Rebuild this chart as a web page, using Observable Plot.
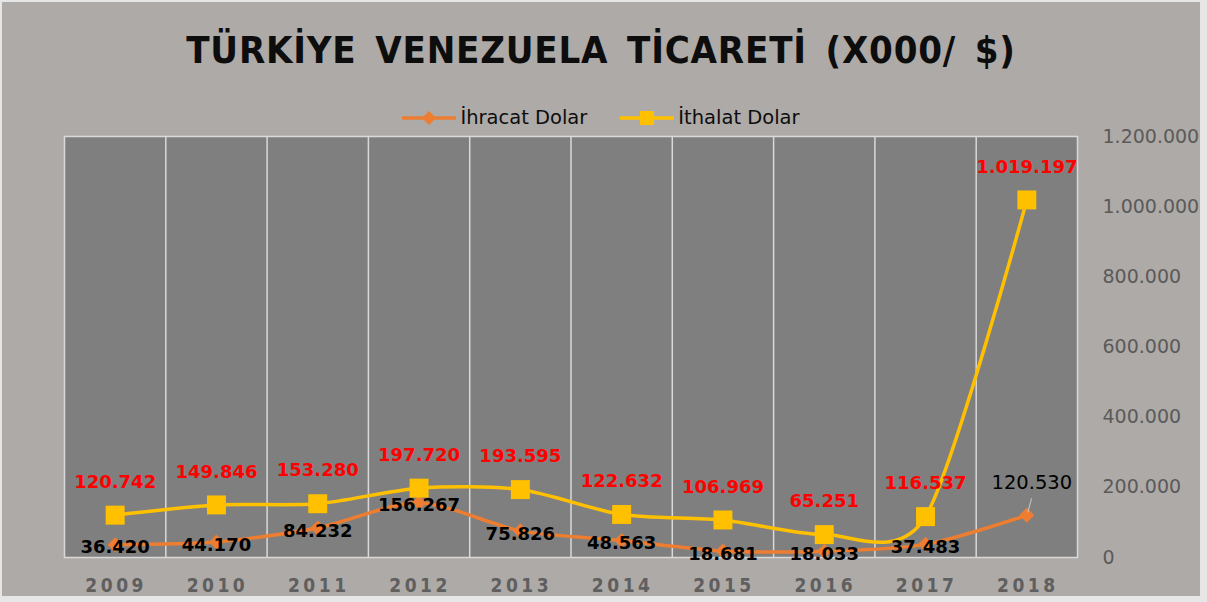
<!DOCTYPE html>
<html><head><meta charset="utf-8">
<script src="https://cdn.jsdelivr.net/npm/d3@7"></script>
<script src="https://cdn.jsdelivr.net/npm/@observablehq/plot@0.6"></script>
<style>
body{margin:0;background:#e6e6e6;}
#chart{position:absolute;left:2px;top:2px;width:1198px;height:594px;background:#aeaaa7;overflow:hidden;}
#title{position:absolute;left:0;top:26px;width:1198px;text-align:center;font-family:"DejaVu Sans Condensed","DejaVu Sans";font-stretch:condensed;font-weight:bold;font-size:38px;letter-spacing:0.8px;word-spacing:6px;color:#0d0d0d;}
#legend{position:absolute;left:0;top:104px;width:1198px;display:flex;justify-content:center;gap:33px;font-family:"DejaVu Sans";font-size:19.5px;color:#0d0d0d;}
#legend .it{display:flex;align-items:center;gap:4px;}
#plot{position:absolute;left:0;top:114px;}
#plot svg [aria-label="x-axis tick label"] text{letter-spacing:3.5px;font-stretch:condensed;}
</style></head>
<body>
<div id="chart">
  <div id="title">TÜRKİYE VENEZUELA TİCARETİ (X000/ $)</div>
  <div id="legend"></div>
  <div id="plot"></div>
</div>
<script>
const years = [2009, 2010, 2011, 2012, 2013, 2014, 2015, 2016, 2017, 2018];
const ihracat = [36420, 44170, 84232, 156267, 75826, 48563, 18681, 18033, 37483, 120530];
const ithalat = [120742, 149846, 153280, 197720, 193595, 122632, 106969, 65251, 116537, 1019197];
const yTicks = [0, 200000, 400000, 600000, 800000, 1000000, 1200000];
const seriesNames = ["İhracat Dolar", "İthalat Dolar"];
const colors = ["#ED7D31", "#FFC000"];

const fmt = v => d3.format(",")(v).replace(/,/g, ".");
const exp = years.map((y, i) => ({year: y, value: ihracat[i]}));
const imp = years.map((y, i) => ({year: y, value: ithalat[i]}));
const bounds = years.slice(1).map(y => y - 0.5);

// legend
const leg = document.getElementById("legend");
seriesNames.forEach((n, i) => {
  const it = document.createElement("div"); it.className = "it";
  const mk = i === 0
    ? `<path d="M27,3 L34,10 L27,17 L20,10 Z" fill="${colors[i]}"/>`
    : `<rect x="20" y="3" width="14" height="14" fill="${colors[i]}"/>`;
  it.innerHTML = `<svg width="54" height="20"><line x1="0" x2="54" y1="10" y2="10" stroke="${colors[i]}" stroke-width="3.5"/>${mk}</svg><span>${n}</span>`;
  leg.appendChild(it);
});

const font = "'DejaVu Sans', sans-serif";
const plot = Plot.plot({
  width: 1198,
  height: 482,
  marginTop: 20,
  marginBottom: 41,
  marginLeft: 62,
  marginRight: 123,
  style: {background: "transparent", fontFamily: font},
  x: {domain: [years[0] - 0.5, years[years.length - 1] + 0.5], label: null},
  y: {domain: [0, 1200000], label: null},
  marks: [
    Plot.frame({fill: "#7f7f7f", stroke: "#d9d9d9", strokeWidth: 1.5}),
    Plot.ruleX(bounds, {stroke: "#d9d9d9", strokeWidth: 1.5}),
    Plot.axisX({ticks: years, tickSize: 0, tickPadding: 21, dx: 1, fontSize: 19, fontWeight: "bold", fill: "#5f5f5f", tickFormat: d => String(d), label: null}),
    Plot.axisY({anchor: "right", ticks: yTicks, tickSize: 0, tickPadding: 25, fontSize: 19, fill: "#5a5a5a", tickFormat: fmt, textAnchor: "start", label: null}),
    Plot.line(exp, {x: "year", y: "value", stroke: colors[0], strokeWidth: 3.5, curve: "cardinal", tension: 0.2}),
    Plot.line(imp, {x: "year", y: "value", stroke: colors[1], strokeWidth: 3.5, curve: "cardinal", tension: 0.2}),
    Plot.dot(exp, {x: "year", y: "value", symbol: "diamond2", r: 6.8, fill: colors[0], stroke: null}),
    Plot.dot(imp, {x: "year", y: "value", symbol: "square", r: 10.7, fill: colors[1], stroke: null}),
    Plot.text(imp, {x: "year", y: "value", text: d => fmt(d.value), dy: -33, fill: "#ff0000", fontWeight: "bold", fontSize: 18}),
    Plot.text(exp.slice(0, -1), {x: "year", y: "value", text: d => fmt(d.value), dy: 3, fill: "#000", fontWeight: "bold", fontSize: 18}),
    Plot.vector(exp.slice(-1), {x: "year", y: "value", length: 14, rotate: 15, anchor: "start", dx: 1, dy: -3, stroke: "#c8c8c8", strokeWidth: 1,
      shape: {draw(c, l) { c.moveTo(0, 0); c.lineTo(0, -l); }}}),
    Plot.text(exp.slice(-1), {x: "year", y: "value", text: d => fmt(d.value), dx: 5, dy: -32, fill: "#000", fontSize: 19.5})
  ]
});
document.getElementById("plot").appendChild(plot);
</script>
</body></html>
